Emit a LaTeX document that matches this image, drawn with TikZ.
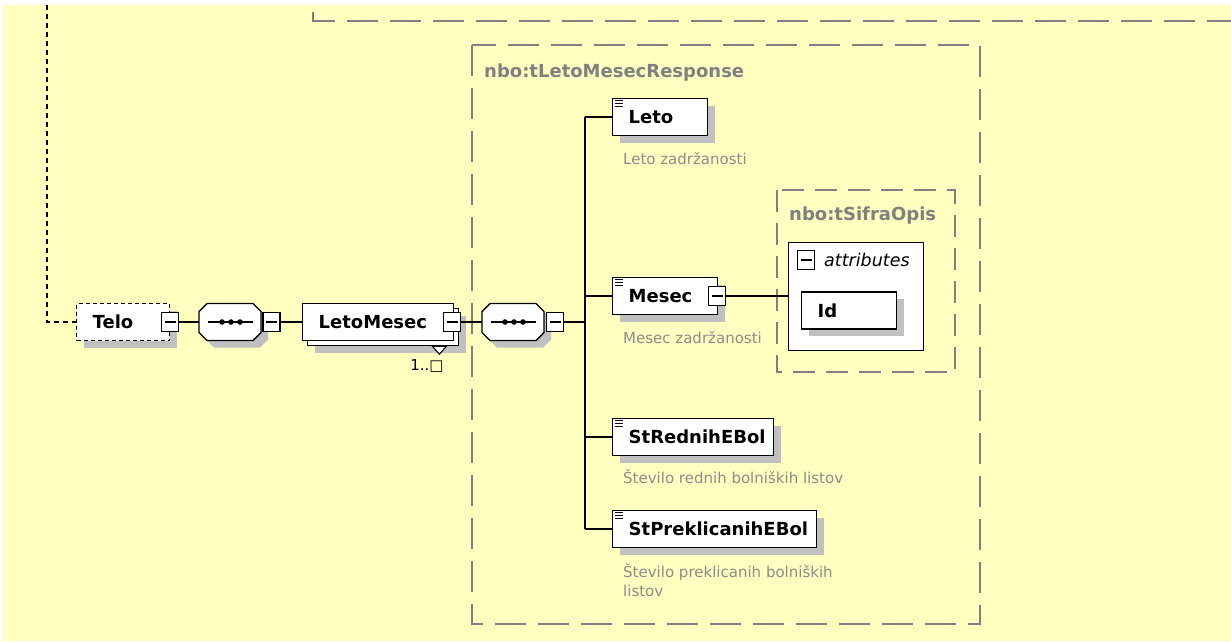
\documentclass[tikz,border=0pt]{standalone}
\usepackage{fontspec}
\setmainfont{DejaVu Sans}
\usetikzlibrary{calc}
\usetikzlibrary{shadows}
\definecolor{bgyellow}{HTML}{FFFFC0}
\definecolor{shadowgray}{HTML}{C0C0C0}
\definecolor{boxgray}{HTML}{808080}
\definecolor{notegray}{HTML}{8C8C8C}

\newcommand{\seqnode}[3]{%
  \draw[line width=1.4pt, fill=white, shadowed, shift={(#2,#3)}]
    (8,-18.5) -- (54,-18.5) -- (62,-10.5) -- (62,10.5) -- (54,18.5) -- (8,18.5) -- (0,10.5) -- (0,-10.5) -- cycle;
  \draw[line width=1.4pt, shift={(#2,#3)}] (9,0) -- (54,0);
  \foreach \dx in {23,32,41} \fill[shift={(#2,#3)}] (\dx,0) circle (2.8pt);
  \node[inner sep=0pt, minimum width=62pt, minimum height=37pt, anchor=west] (#1) at (#2,#3) {};
}

\begin{document}
\begin{tikzpicture}[x=1pt, y=-1pt,
  shadowed/.style={drop shadow={shadow xshift=7pt, shadow yshift=-7pt, fill=shadowgray, opacity=1}},
  elem/.style={draw, fill=white, line width=1.4pt, anchor=west, minimum height=37pt, inner xsep=16pt, inner ysep=0pt, text width=#1, font=\fontsize{18}{21}\selectfont\bfseries},
  minusbox/.style={draw, fill=white, line width=1.2pt, minimum width=17pt, minimum height=19pt, inner sep=0pt,
    path picture={\draw[line width=1.2pt] ([xshift=3pt]path picture bounding box.west) -- ([xshift=-3pt]path picture bounding box.east);}},
  typebox/.style={draw=boxgray, line width=1.5pt, dash pattern=on 31pt off 12pt},
  typename/.style={anchor=west, inner sep=0pt, text=boxgray, font=\fontsize{18}{21}\selectfont\bfseries},
  note/.style={anchor=base west, inner sep=0pt, text=notegray, font=\fontsize{15}{19}\selectfont, align=left},
  link/.style={line width=1.5pt}]

\useasboundingbox (0,0) rectangle (1231,641);
\fill[bgyellow] (3,5) rectangle (1231,641);

\draw[typebox] (313,12) -- (313,21) -- (1231,21);
\draw[typebox] (472,45) rectangle (980,624);
\node[typename] (resp) at (484,73) {nbo:tLetoMesecResponse};
\draw[typebox, dash pattern=on 22pt off 11pt] (777,190) rectangle (955,372);
\node[typename] (sifra) at (789,216) {nbo:tSifraOpis};

\node[elem=61pt, dash pattern=on 4pt off 3pt, shadowed] (telo) at (76,322) {Telo};
\node[minusbox] (telom) at (170,322) {};
\coordinate (up) at (47,5);
\draw[line width=1.4pt, dash pattern=on 5pt off 4pt] (up) |- (telo.west);

\seqnode{seq1}{199}{322}
\node[minusbox] (seq1m) at (271.5,322) {};

\node[elem=119pt, shadowed] (lmback) at (307,327) {};
\node[elem=119pt] (lm) at (302,322) {LetoMesec};
\node[minusbox] (lmm) at (452,322) {};
\draw[line width=1.1pt, fill=white] ([xshift=-27pt]lmback.south east) -- ([xshift=-13pt]lmback.south east) -- ([xshift=-20pt,yshift=-8pt]lmback.south east) -- cycle;
\node[font=\fontsize{15}{17}\selectfont, inner sep=0pt] (occurs) at (427,366) {1..□};

\seqnode{seq2}{482}{322}
\node[minusbox] (seq2m) at (555,322) {};

\draw[link] (telom.east) -- (seq1.west);
\draw[link] (seq1m.east) -- (lm.west);
\draw[link] (lmm.east) -- (seq2.west);
\draw[link] (seq2m.east) -- ++(21,0) coordinate (fork);
\foreach \n/\y in {leto/117,mesec/296,redni/437,preklic/529}
  \draw[link] (fork) |- (585,\y);

\node[elem=63pt, shadowed] (leto) at (612,117) {Leto};
\node[elem=73pt, shadowed] (mesec) at (612,296) {Mesec};
\node[minusbox] (mesecm) at (717,296) {};
\node[elem=129pt, shadowed] (redni) at (612,437) {StRednihEBol};
\node[elem=172pt, shadowed] (preklic) at (612,529) {StPreklicanihEBol};
\foreach \n in {leto,mesec,redni,preklic} {
  \draw[link] (fork |- \n.west) -- (\n.west);
  \foreach \d in {3pt,6pt,9pt}
    \draw[line width=1pt] ([xshift=3pt,yshift=-\d]\n.north west) -- ++(8pt,0);
}

\node[note] (letonote) at (623,164) {Leto zadržanosti};
\node[note] (mesecnote) at (623,343) {Mesec zadržanosti};
\node[note] (redninote) at (623,483) {Število rednih bolniških listov};
\node[note, anchor=north west] (preklicnote) at (623,563) {Število preklicanih bolniških\\listov};

\node[draw, fill=white, line width=1.4pt, anchor=north west, minimum width=135pt, minimum height=108pt, inner sep=0pt] (attr) at (788,242) {};
\node[minusbox] (attrm) at (806,260) {};
\node[anchor=west, inner sep=0pt, font=\fontsize{17.5}{20}\selectfont\itshape] (attrlbl) at (824,260) {attributes};
\node[elem=63pt, shadowed] (id) at (801,310.5) {Id};
\draw[link] (mesecm.east) -- (attr.west |- mesecm.east);

\end{tikzpicture}
\end{document}
